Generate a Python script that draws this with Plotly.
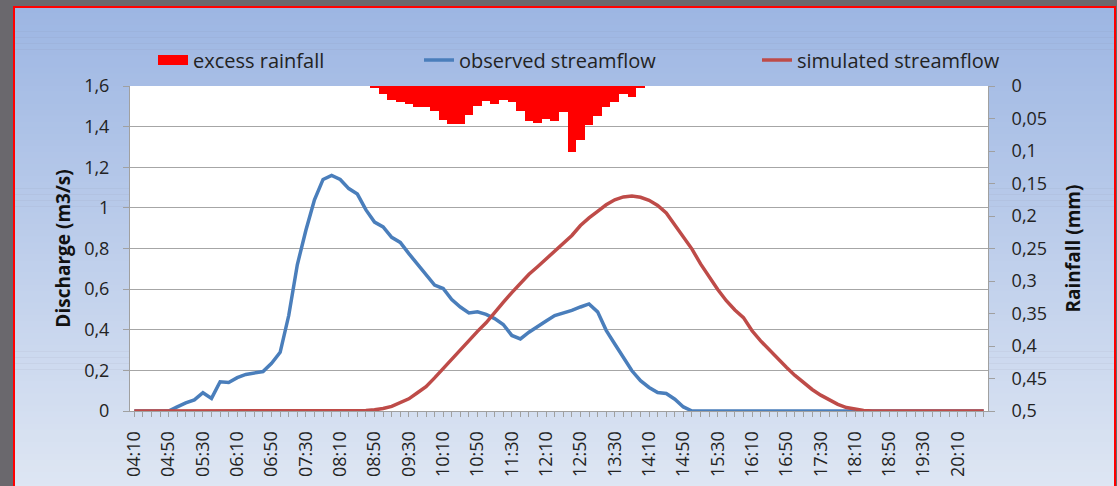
import plotly.graph_objects as go

# 10-minute time steps, 04:10 .. 20:40
times = []
for k in range(100):
    m = 4 * 60 + 10 + 10 * k
    times.append("%02d:%02d" % (m // 60, m % 60))

observed = [
    0, 0, 0, 0, 0, 0.02, 0.04, 0.055, 0.09, 0.062,
    0.144, 0.14, 0.164, 0.18, 0.189, 0.194, 0.235, 0.289, 0.47, 0.72,
    0.89, 1.04, 1.14, 1.16, 1.14, 1.095, 1.068, 0.99, 0.93, 0.906,
    0.855, 0.83, 0.775, 0.722, 0.67, 0.62, 0.603, 0.549, 0.512, 0.483,
    0.488, 0.476, 0.455, 0.426, 0.372, 0.355, 0.388, 0.413, 0.443, 0.47,
    0.482, 0.495, 0.512, 0.527, 0.488, 0.397, 0.33, 0.264, 0.198, 0.149,
    0.116, 0.091, 0.086, 0.058, 0.02, 0, 0, 0, 0, 0,
    0, 0, 0, 0, 0, 0, 0, 0, 0, 0,
    0, 0, 0, 0, 0, 0, 0, 0, 0, 0,
    0, 0, 0, 0, 0, 0, 0, 0, 0, 0,
]

simulated = [
    0, 0, 0, 0, 0, 0, 0, 0, 0, 0,
    0, 0, 0, 0, 0, 0, 0, 0, 0, 0,
    0, 0, 0, 0, 0, 0, 0, 0.002, 0.006, 0.012,
    0.023, 0.04, 0.06, 0.09, 0.12, 0.163, 0.21, 0.256, 0.3, 0.35,
    0.392, 0.434, 0.486, 0.535, 0.583, 0.63, 0.673, 0.71, 0.748, 0.785,
    0.826, 0.864, 0.913, 0.951, 0.983, 1.015, 1.04, 1.054, 1.058, 1.052,
    1.037, 1.012, 0.975, 0.915, 0.86, 0.797, 0.724, 0.66, 0.598, 0.543,
    0.497, 0.46, 0.395, 0.345, 0.3, 0.258, 0.215, 0.175, 0.14, 0.106,
    0.078, 0.055, 0.033, 0.017, 0.009, 0.003, 0, 0, 0, 0,
    0, 0, 0, 0, 0, 0, 0, 0, 0, 0,
]

rain_start = "08:50"
rainfall = [
    0.0036, 0.013, 0.0215, 0.024, 0.028, 0.032, 0.032, 0.0385,
    0.052, 0.059, 0.059, 0.045, 0.030, 0.023, 0.027, 0.0215,
    0.0246, 0.0385, 0.054, 0.057, 0.050, 0.054, 0.040, 0.1015,
    0.0836, 0.06, 0.046, 0.033, 0.0246, 0.013, 0.0164, 0.0026,
]
i0 = times.index(rain_start)
rain_times = times[i0:i0 + len(rainfall)]

tick_text = [t if i % 4 == 0 else "" for i, t in enumerate(times)]

W, H = 1117, 486
ML, MR, MT, MB = 130, 129, 86, 75
PW, PH = W - ML - MR, H - MT - MB

def px_x(p):
    return (p - ML) / PW

def px_y(p):
    return (H - MB - p) / PH

FONT = "'Open Sans', sans-serif"
TXT = "#232323"
BLUE = "#4a7ebb"
RED = "#be4b48"

fig = go.Figure()

fig.add_trace(go.Bar(x=rain_times, y=rainfall, yaxis="y2", marker=dict(color="#ff0000", line=dict(width=0)),
                     name="excess rainfall", showlegend=False))
fig.add_trace(go.Scatter(x=[None], y=[None], mode="lines", line=dict(color="#ff0000", width=13),
                         name="excess rainfall", legend="legend"))
fig.add_trace(go.Scatter(x=times, y=observed, mode="lines", line=dict(color=BLUE, width=3.5),
                         name="observed streamflow", legend="legend2"))
fig.add_trace(go.Scatter(x=times, y=simulated, mode="lines", line=dict(color=RED, width=3.5),
                         name="simulated streamflow", legend="legend3"))

# chart area gradient background
shapes = []
top, bot = 7, 490
n = 80
c0 = (157, 182, 227)
c1 = (222, 230, 243)
for k in range(n):
    f = k / (n - 1)
    col = "rgb(%d,%d,%d)" % tuple(round(c0[j] + (c1[j] - c0[j]) * f) for j in range(3))
    ya = top + (bot - top) * k / n
    yb = top + (bot - top) * (k + 1) / n + 0.6
    shapes.append(dict(type="rect", xref="paper", yref="paper", layer="below",
                       x0=px_x(14), x1=px_x(1115), y0=px_y(ya), y1=px_y(yb),
                       fillcolor=col, line=dict(width=0)))
shapes.append(dict(type="rect", xref="paper", yref="paper", layer="below",
                   x0=px_x(14), x1=px_x(1115), y0=px_y(7), y1=px_y(492),
                   line=dict(color="#ff0000", width=2)))
shapes.append(dict(type="rect", xref="paper", yref="paper", layer="below",
                   x0=0, x1=1, y0=0, y1=1, fillcolor="white", line=dict(width=0)))

leg = dict(orientation="h", yanchor="middle", y=px_y(60), xanchor="left",
           bgcolor="rgba(0,0,0,0)", font=dict(family=FONT, size=20, color=TXT))

fig.update_layout(
    width=W, height=H,
    margin=dict(l=ML, r=MR, t=MT, b=MB, autoexpand=False),
    paper_bgcolor="#6a686d",
    plot_bgcolor="white",
    separators=", ",
    bargap=0,
    font=dict(family=FONT, size=18, color=TXT),
    shapes=shapes,
    legend=dict(leg, x=px_x(153)),
    legend2=dict(leg, x=px_x(419)),
    legend3=dict(leg, x=px_x(757)),
    xaxis=dict(type="category", categoryorder="array", categoryarray=times, range=[-0.5, 99.5],
               tickmode="array", tickvals=times, ticktext=tick_text,
               tickangle=-90, ticks="outside", ticklen=5, tickcolor="#a0a0a0",
               showline=True, linecolor="#a0a0a0", linewidth=1, showgrid=False, automargin=False,
               tickfont=dict(family=FONT, size=18, color=TXT), ticklabelstandoff=7),
    yaxis=dict(range=[0, 1.6], dtick=0.2, ticks="outside", ticklen=6, tickcolor="#a0a0a0",
               showline=True, linecolor="#a0a0a0", gridcolor="#a6a6a6", gridwidth=1, zeroline=False,
               automargin=False,
               tickfont=dict(family=FONT, size=18, color=TXT), ticklabelstandoff=10,
               title=dict(text="<b>Discharge (m3/s)</b>", font=dict(family=FONT, size=19, color="#111111"), standoff=8)),
    yaxis2=dict(range=[0.5, 0], dtick=0.05, overlaying="y", side="right", ticks="outside", ticklen=6,
                tickcolor="#a0a0a0", showline=True, linecolor="#a0a0a0", showgrid=False, zeroline=False,
                automargin=False,
                tickfont=dict(family=FONT, size=18, color=TXT), ticklabelstandoff=13,
                title=dict(text="<b>Rainfall (mm)</b>", font=dict(family=FONT, size=19, color="#111111"), standoff=20)),
)

fig.write_html("out.html", config={"displayModeBar": False}, post_script="document.body.style.margin='0';")
